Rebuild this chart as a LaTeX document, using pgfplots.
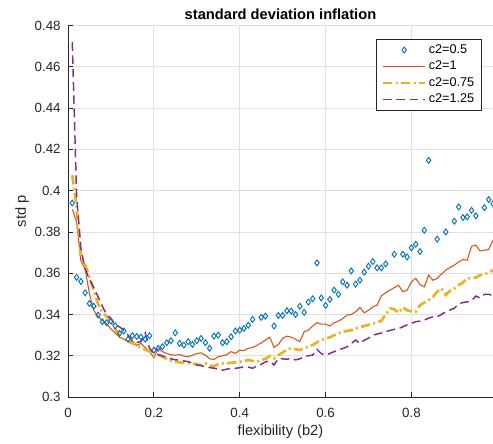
\documentclass[border=0pt]{standalone}
\usepackage{pgfplots}
\usepackage{pgfplotstable}
\pgfplotsset{compat=1.18}
\usepackage{fontspec}
\setmainfont{Liberation Sans}

\definecolor{mblue}{rgb}{0,0.447,0.741}
\definecolor{morange}{rgb}{0.850,0.325,0.098}
\definecolor{myellow}{rgb}{0.929,0.694,0.125}
\definecolor{mpurple}{rgb}{0.494,0.184,0.556}
\definecolor{axcol}{rgb}{0.15,0.15,0.15}
\definecolor{gridcol}{rgb}{0.88,0.88,0.88}

% columns: b2, std p for c2 = 0.5, 1, 0.75, 1.25
\pgfplotstableread{
x    a      b      c      d
0.01 0.394  0.391  0.4075 0.472
0.02 0.358  0.385  0.392  0.398
0.03 0.356  0.366  0.368  0.372
0.04 0.3505 0.362  0.364  0.362
0.05 0.3453 0.350  0.358  0.357
0.06 0.344  0.342  0.352  0.353
0.07 0.3397 0.339  0.345  0.3486
0.08 0.3365 0.337  0.341  0.344
0.09 0.336  0.3355 0.339  0.340
0.10 0.3368 0.333  0.337  0.338
0.11 0.3345 0.331  0.333  0.335
0.12 0.3308 0.329  0.330  0.334
0.13 0.332  0.328  0.328  0.3324
0.14 0.328  0.327  0.327  0.330
0.15 0.3297 0.327  0.326  0.327
0.16 0.3294 0.325  0.325  0.3265
0.17 0.329  0.326  0.324  0.3268
0.18 0.328  0.324  0.323  0.331
0.19 0.3297 0.322  0.322  0.3236
0.20 0.3227 0.319  0.320  0.3211
0.21 0.3236 0.3236 0.3205 0.3205
0.22 0.3243 0.322  0.3195 0.3200
0.23 0.3263 0.3211 0.3185 0.3190
0.24 0.3273 0.3205 0.3175 0.3185
0.25 0.3311 0.3203 0.3171 0.3180
0.26 0.326  0.3206 0.3168 0.3179
0.27 0.3252 0.3198 0.3165 0.3175
0.28 0.3268 0.3195 0.3163 0.3171
0.29 0.3255 0.3203 0.3163 0.3165
0.30 0.3273 0.3210 0.3158 0.3155
0.31 0.3284 0.3214 0.3155 0.3152
0.32 0.3263 0.3203 0.3163 0.3147
0.33 0.3236 0.3185 0.3155 0.3143
0.34 0.3295 0.3182 0.3147 0.3139
0.35 0.3300 0.3195 0.3160 0.3135
0.36 0.3263 0.3200 0.3163 0.3130
0.37 0.3268 0.3205 0.3163 0.3135
0.38 0.3292 0.3220 0.3166 0.3139
0.39 0.3320 0.3211 0.3168 0.3139
0.40 0.3324 0.3227 0.3171 0.3142
0.41 0.3332 0.3225 0.3175 0.3147
0.42 0.3348 0.3236 0.3179 0.3145
0.43 0.3376 0.3240 0.3175 0.3139
0.44 nan    0.3250 0.3171 0.3150
0.45 0.3386 0.3262 0.3179 0.3158
0.46 0.3392 0.3276 0.3185 0.3170
0.47 nan    0.3290 0.3198 0.3175
0.48 0.3344 0.3240 0.3187 0.3155
0.49 0.3395 0.3255 0.3203 0.3187
0.50 0.3395 0.3284 0.3215 0.3185
0.51 0.3418 0.3295 0.3231 0.3183
0.52 0.3416 0.3290 0.3236 0.3187
0.53 0.3400 0.3280 0.3232 0.3180
0.54 0.3440 0.3268 0.3227 0.3185
0.55 0.3410 0.3316 0.3236 0.3195
0.56 0.3460 0.3324 0.3245 0.3200
0.57 0.3476 0.3344 0.3252 0.3203
0.58 0.3650 0.3360 0.3265 0.3231
0.59 0.3480 0.3353 0.3276 0.3210
0.60 0.3444 0.3353 0.3284 0.3203
0.61 0.3473 0.3344 0.3289 0.3211
0.62 0.3518 0.3360 0.3300 0.3220
0.63 0.3498 0.3368 0.3308 0.3227
0.64 0.3558 0.3380 0.3316 0.3235
0.65 0.3542 0.3397 0.3320 0.3243
0.66 0.3611 0.3400 0.3324 0.3260
0.67 0.3547 0.3413 0.3332 0.3276
0.68 0.3566 0.3434 0.3338 0.3260
0.69 0.3605 0.3408 0.3344 0.3275
0.70 0.3634 0.3420 0.3350 0.3285
0.71 0.3656 0.3437 0.3357 0.3300
0.72 0.3626 0.3445 0.3360 0.3305
0.73 0.3626 0.3490 0.3370 0.3310
0.74 0.3645 0.3505 0.3400 0.3318
0.75 nan    0.3518 0.3430 0.3322
0.76 0.3692 0.3530 0.3425 0.3328
0.77 nan    0.3542 0.3408 0.3332
0.78 0.3692 0.3510 0.3434 0.3340
0.79 0.3679 0.3518 0.3420 0.3350
0.80 0.3723 0.3558 0.3415 0.3357
0.81 0.3740 0.3575 0.3413 0.3365
0.82 0.3705 0.3545 0.3445 0.3368
0.83 0.3808 0.3534 0.3458 0.3373
0.84 0.4147 0.3590 0.3470 0.3382
0.85 nan    0.3566 0.3485 0.3389
0.86 0.3765 0.3574 0.3510 0.3389
0.87 nan    0.3595 0.3526 0.3400
0.88 0.3800 0.3615 0.3494 0.3413
0.89 nan    0.3628 0.3515 0.3422
0.90 0.3852 0.3639 0.3526 0.3430
0.91 0.3921 0.3655 0.3542 0.3450
0.92 0.3870 0.3666 0.3555 0.3458
0.93 0.3873 0.3663 0.3574 0.3461
0.94 0.3905 0.3730 0.3578 0.3466
0.95 0.3878 0.3736 0.3579 0.3489
0.96 nan    0.3708 0.3590 0.3480
0.97 0.3918 0.3712 0.3595 0.3498
0.98 0.3957 0.3715 0.3602 0.3498
0.99 0.3937 0.3760 0.3615 0.3490
}\stddata

\begin{document}
\begin{tikzpicture}
\begin{axis}[
  scale only axis,
  width=318.75pt, height=278.55pt,
  xmin=0, xmax=0.99, ymin=0.3, ymax=0.48,
  axis x line*=bottom, axis y line*=left,
  axis line style={color=axcol, line width=0.6pt},
  xtick={0,0.2,0.4,0.6,0.8},
  xticklabels={0,0.2,0.4,0.6,0.8},
  ytick={0.3,0.32,0.34,0.36,0.38,0.4,0.42,0.44,0.46,0.48},
  yticklabels={0.3,0.32,0.34,0.36,0.38,0.4,0.42,0.44,0.46,0.48},
  tick align=inside, major tick length=3.5pt,
  tick style={color=axcol, line width=0.6pt},
  grid=major, grid style={color=gridcol, line width=0.6pt},
  /pgf/number format/assume math mode=true,
  ticklabel style={font=\fontsize{10}{12}\selectfont, text=axcol},
  xticklabel style={yshift=-5pt},
  yticklabel style={xshift=-2pt},
  title={standard deviation inflation},
  every axis title/.style={at={(axis description cs:0.5,1)}, anchor=base,
    yshift=4.5pt, font=\bfseries\fontsize{11}{13}\selectfont, text=black},
  xlabel={flexibility (b2)},
  xlabel style={at={(axis description cs:0.5,-0.094)}, anchor=center,
    font=\fontsize{11}{13}\selectfont, text=axcol},
  ylabel={std p},
  ylabel style={at={(axis description cs:-0.108,0.5)}, anchor=center,
    font=\fontsize{11}{13}\selectfont, text=axcol},
  legend cell align=left,
  legend image code/.code={%
    \draw[mark repeat=2, mark phase=2, #1]
      plot coordinates {(0cm,0cm) (0.56cm,0cm) (1.12cm,0cm)};},
  legend style={at={(axis description cs:0.974,0.964)}, anchor=north east,
    draw=axcol, line width=0.6pt, fill=white,
    font=\fontsize{9.5}{11}\selectfont,
    inner xsep=4pt, inner ysep=2pt, row sep=0.3pt,
    nodes={inner sep=1.5pt, text height=7pt, text depth=2pt}},
]
\addplot[only marks, mark=diamond, mark size=2.2pt,
  mark options={draw=mblue, line width=0.7pt}] table[x=x, y=a] {\stddata};
\addlegendentry{c2=0.5}
\addplot[color=morange, line width=0.8pt] table[x=x, y=b] {\stddata};
\addlegendentry{c2=1}
\addplot[color=myellow, line width=2pt,
  dash pattern=on 7pt off 2.5pt on 1.5pt off 2.5pt] table[x=x, y=c] {\stddata};
\addlegendentry{c2=0.75}
\addplot[color=mpurple, line width=1.1pt,
  dash pattern=on 6.5pt off 3.5pt] table[x=x, y=d] {\stddata};
\addlegendentry{c2=1.25}
\end{axis}
% page frame around the axis and its labels
\pgfresetboundingbox
\path[use as bounding box] (-51pt,-34.5pt) rectangle (318.75pt,297.75pt);
\end{tikzpicture}
\end{document}
